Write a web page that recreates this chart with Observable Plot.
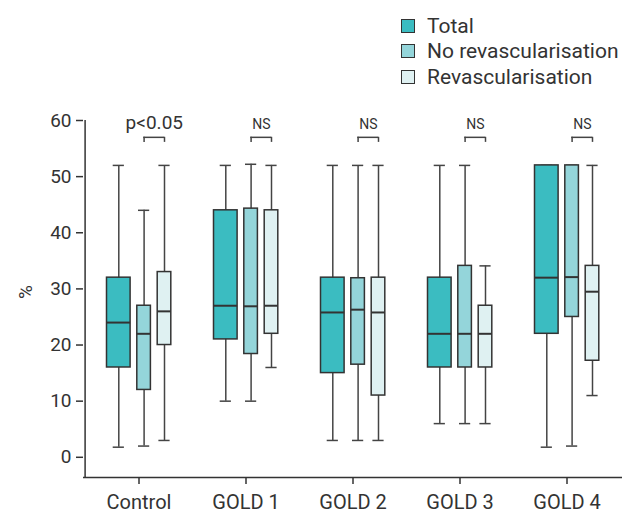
<!DOCTYPE html>
<html><head><meta charset="utf-8">
<script src="https://cdn.jsdelivr.net/npm/d3@7"></script>
<script src="https://cdn.jsdelivr.net/npm/@observablehq/plot@0.6"></script>
<style>
body{margin:0;background:#fff;font-family:Roboto,sans-serif;color:#333}
#legend{height:100px;box-sizing:border-box;padding-top:13px;padding-left:401px}
.item{display:flex;align-items:center;height:25.5px;font-size:21px;white-space:nowrap}
.sw{width:12px;height:12px;border:1.5px solid #333;margin-right:12px;flex:none}
</style></head><body>
<div id="legend"></div><div id="chart"></div>
<script>
// ---- data ----
const categories = ["Control", "GOLD 1", "GOLD 2", "GOLD 3", "GOLD 4"];
const series = ["Total", "No revascularisation", "Revascularisation"];
const colors = ["#3bbcc1", "#94d5da", "#dff1f2"];
const significance = ["p<0.05", "NS", "NS", "NS", "NS"];
const yTicks = [0, 10, 20, 30, 40, 50, 60];

const totalMin = [1.8, 10, 3, 6, 1.8];
const totalQ1  = [16, 21, 15, 16, 22];
const totalMed = [24, 27, 25.8, 22, 32];
const totalQ3  = [32, 44, 32, 32, 52];
const totalMax = [52, 52, 52, 52, 52];

const noRevMin = [2, 10, 3, 6, 2];
const noRevQ1  = [12, 18.4, 16.5, 16, 25];
const noRevMed = [22, 26.9, 26.3, 22, 32.1];
const noRevQ3  = [27, 44.3, 31.9, 34.1, 52];
const noRevMax = [44, 52.2, 52, 52, 52];

const revMin = [3, 16, 3, 6, 11];
const revQ1  = [20, 22, 11, 16, 17.2];
const revMed = [26, 27, 25.8, 22, 29.5];
const revQ3  = [33, 44, 32, 27, 34.1];
const revMax = [52, 52, 52, 34.1, 52];

const stats = [
  [totalMin, totalQ1, totalMed, totalQ3, totalMax],
  [noRevMin, noRevQ1, noRevMed, noRevQ3, noRevMax],
  [revMin, revQ1, revMed, revQ3, revMax]
];

// ---- legend ----
const leg = document.getElementById("legend");
series.forEach((s, i) => {
  const it = document.createElement("div"); it.className = "item";
  const sw = document.createElement("span"); sw.className = "sw"; sw.style.background = colors[i];
  const tx = document.createElement("span"); tx.textContent = s;
  it.append(sw, tx); leg.append(it);
});

// ---- layout ----
const W = 636, H = 413, mL = 83, mR = 14, mT = 20, mB = 36;
const bw = (W - mL - mR) / categories.length;
const centers = [-20.2, 5.1, 25.5];   // px offset from band centre
const widths = [24.4, 14.4, 14.4];
const capW = 12;
const ins = (c, w) => ({insetLeft: bw / 2 + c - w / 2, insetRight: bw / 2 - c - w / 2});

const marks = [];
series.forEach((s, j) => {
  const data = categories.map((cat, i) => ({
    cat, min: stats[j][0][i], q1: stats[j][1][i], med: stats[j][2][i], q3: stats[j][3][i], max: stats[j][4][i]
  }));
  const c = centers[j], w = widths[j];
  marks.push(Plot.ruleX(data, {x: "cat", y1: "min", y2: "max", dx: c, stroke: "#444", strokeWidth: 1.5}));
  marks.push(Plot.tickY(data, {x: "cat", y: "min", ...ins(c, capW), stroke: "#444", strokeWidth: 1.5}));
  marks.push(Plot.tickY(data, {x: "cat", y: "max", ...ins(c, capW), stroke: "#444", strokeWidth: 1.5}));
  marks.push(Plot.barY(data, {x: "cat", y1: "q1", y2: "q3", fill: colors[j], stroke: "#333", strokeWidth: 1.5, ...ins(c, w)}));
  marks.push(Plot.tickY(data, {x: "cat", y: "med", ...ins(c, w), stroke: "#333", strokeWidth: 2}));
});

// significance brackets between the two sub-groups
const brk = categories.map((cat, i) => ({cat, label: significance[i]}));
const bTop = 57, bLow = 56.1, labY = 58.4;
const bIns = {insetLeft: bw / 2 + centers[1] - 0.75, insetRight: bw / 2 - centers[2] - 0.75};
marks.push(Plot.tickY(brk, {x: "cat", y: () => bTop, ...bIns, stroke: "#444", strokeWidth: 1.5}));
marks.push(Plot.ruleX(brk, {x: "cat", y1: () => bLow, y2: () => bTop, dx: centers[1], stroke: "#444", strokeWidth: 1.5}));
marks.push(Plot.ruleX(brk, {x: "cat", y1: () => bLow, y2: () => bTop, dx: centers[2], stroke: "#444", strokeWidth: 1.5}));
const midB = (centers[1] + centers[2]) / 2;
marks.push(Plot.text(brk.filter(d => d.label !== "NS"), {x: "cat", y: () => labY, text: "label", dx: midB, lineAnchor: "bottom", fontSize: 19, fill: "#333"}));
marks.push(Plot.text(brk.filter(d => d.label === "NS"), {x: "cat", y: () => labY, text: "label", dx: midB, lineAnchor: "bottom", fontSize: 14, fill: "#333"}));

// axes + frame lines
marks.push(Plot.ruleY([-3.6], {stroke: "#333", strokeWidth: 1.5}));
marks.push(Plot.ruleX([categories[0]], {x: d => d, y1: () => -3.6, y2: () => 60, dx: -bw / 2, stroke: "#333", strokeWidth: 1.5}));
marks.push(Plot.axisY({ticks: yTicks, tickSize: 7, tickPadding: 5, fontSize: 19, label: null, strokeWidth: 1.5}));
marks.push(Plot.axisX({tickSize: 7, tickPadding: 10, fontSize: 20, label: null, strokeWidth: 1.5}));
marks.push(Plot.text(["%"], {frameAnchor: "left", text: d => d, rotate: -90, dx: -58, fontSize: 19, fill: "#333"}));

const chart = Plot.plot({
  width: W, height: H,
  marginLeft: mL, marginRight: mR, marginTop: mT, marginBottom: mB,
  x: {type: "band", domain: categories, padding: 0, axis: null},
  y: {domain: [-3.6, 60], axis: null},
  style: {fontFamily: "Roboto, sans-serif", color: "#333", background: "#fff", overflow: "visible"},
  marks
});
document.getElementById("chart").append(chart);
</script></body></html>
